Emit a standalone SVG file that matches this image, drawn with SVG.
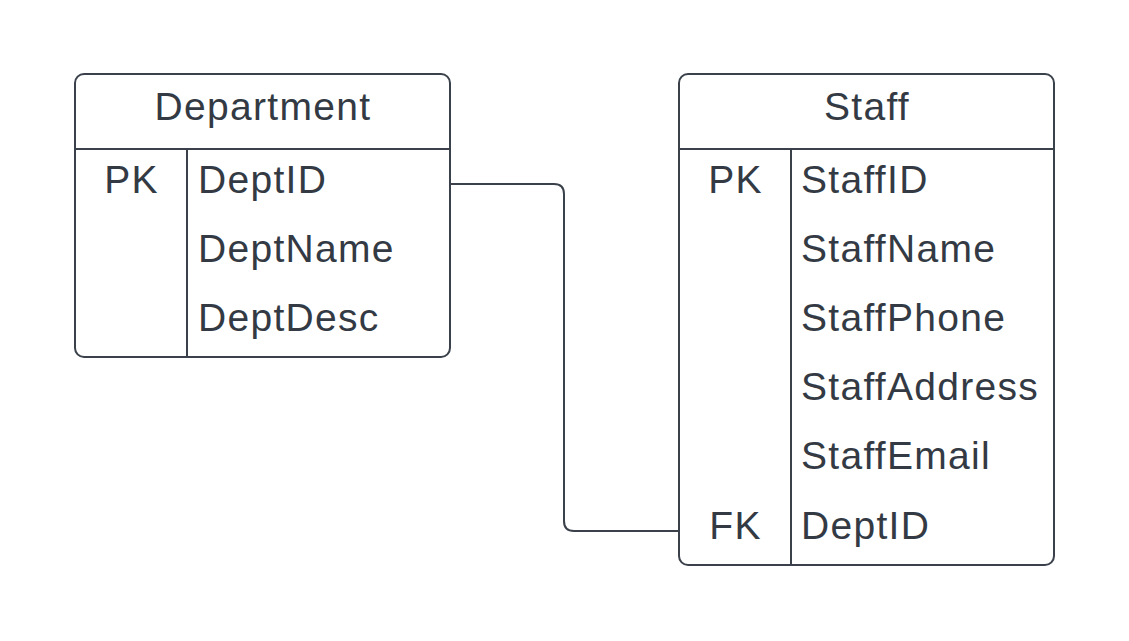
<svg xmlns="http://www.w3.org/2000/svg" width="1129" height="641" viewBox="0 0 1129 641">
<style>
.box{fill:#ffffff;stroke:#3a414a;stroke-width:2}
.ln{stroke:#3a414a;stroke-width:2;fill:none}
.t{font-family:"Liberation Sans",Arial,sans-serif;font-size:39px;letter-spacing:1.3px;fill:#333a44}
.c{text-anchor:middle}
</style>
<rect width="1129" height="641" fill="#ffffff"/>
<g id="connectors">
<path class="ln" d="M450,184 H554 Q564,184 564,194 V521 Q564,531 574,531 H679"/>
</g>
<g id="department">
<rect class="box" x="75" y="74" width="375" height="283" rx="9"/>
<line class="ln" x1="75" y1="149" x2="450" y2="149"/>
<line class="ln" x1="187" y1="149" x2="187" y2="357"/>
<text class="t c" x="263" y="120">Department</text>
<text class="t c" x="131.5" y="193">PK</text>
<text class="t" x="198" y="193">DeptID</text>
<text class="t" x="198" y="262">DeptName</text>
<text class="t" x="198" y="331">DeptDesc</text>
</g>
<g id="staff">
<rect class="box" x="679" y="74" width="375" height="491" rx="9"/>
<line class="ln" x1="679" y1="149" x2="1054" y2="149"/>
<line class="ln" x1="791" y1="149" x2="791" y2="565"/>
<text class="t c" x="867" y="120">Staff</text>
<text class="t c" x="735.5" y="193">PK</text>
<text class="t" x="801" y="193">StaffID</text>
<text class="t" x="801" y="262">StaffName</text>
<text class="t" x="801" y="331">StaffPhone</text>
<text class="t" x="801" y="400">StaffAddress</text>
<text class="t" x="801" y="469">StaffEmail</text>
<text class="t c" x="735.5" y="539">FK</text>
<text class="t" x="801" y="539">DeptID</text>
</g>
</svg>
